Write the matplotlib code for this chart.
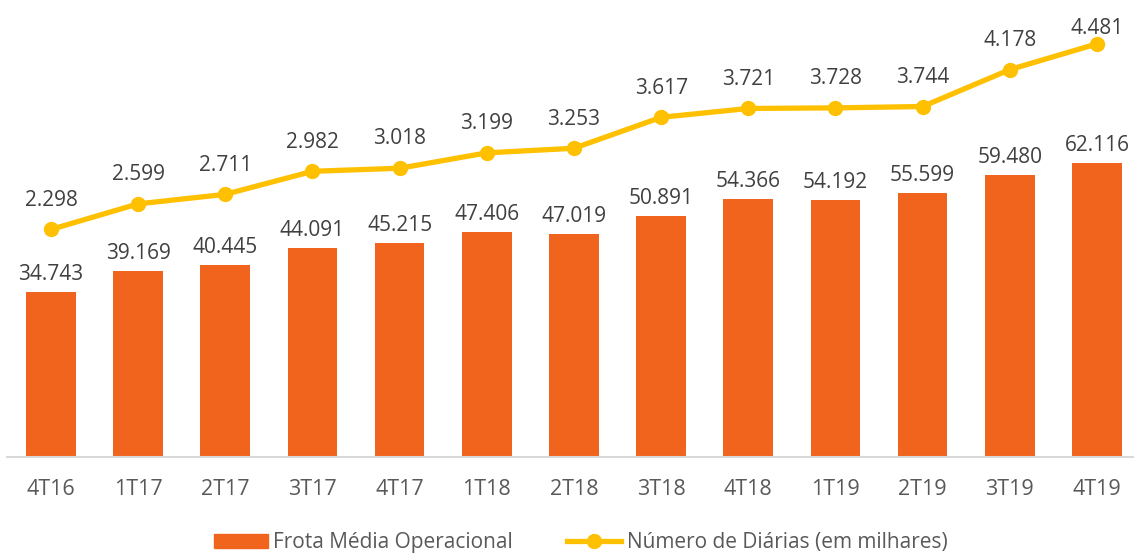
import matplotlib.pyplot as plt
import numpy as np

quarters = ['4T16', '1T17', '2T17', '3T17', '4T17', '1T18', '2T18',
            '3T18', '4T18', '1T19', '2T19', '3T19', '4T19']
frota = [34.743, 39.169, 40.445, 44.091, 45.215, 47.406, 47.019,
         50.891, 54.366, 54.192, 55.599, 59.480, 62.116]
diarias = [2.298, 2.599, 2.711, 2.982, 3.018, 3.199, 3.253,
           3.617, 3.721, 3.728, 3.744, 4.178, 4.481]

barColor = '#F0641E'
lineColor = '#FFC000'
textColor = '#404040'

plt.rcParams['font.family'] = ['Open Sans', 'DejaVu Sans']

fig = plt.figure(figsize=(11.34, 5.54), dpi=100)
ax = fig.add_axes([0.0065, 0.1751, 0.9993, 0.807])
x = np.arange(len(quarters))

ax.bar(x, frota, width=0.57, color=barColor, zorder=2)
ax.set_xlim(-0.5, len(quarters) - 0.5)
ax.set_ylim(0, 94.3)
for xi, v in zip(x, frota):
    ax.annotate('{:.3f}'.format(v), (xi, v), xytext=(0, 5), textcoords='offset points',
                ha='center', va='bottom', fontsize=15, color=textColor)

ax.set_xticks(x)
ax.set_xticklabels(quarters, fontsize=15.5, color='#595959')
ax.tick_params(axis='x', length=0, pad=15.5)
ax.set_yticks([])
for side in ['left', 'right', 'top']:
    ax.spines[side].set_visible(False)
ax.spines['bottom'].set_color('#D9D9D9')
ax.spines['bottom'].set_linewidth(1.5)

ax2 = ax.twinx()
ax2.plot(x, diarias, color=lineColor, linewidth=3.8, marker='o', markersize=10,
         solid_capstyle='round', zorder=3)
ax2.set_ylim(-0.378, 4.88)
ax2.set_yticks([])
for side in ['left', 'right', 'top', 'bottom']:
    ax2.spines[side].set_visible(False)
lineLabels = []
for xi, v in zip(x, diarias):
    t = ax2.annotate('{:.3f}'.format(v), (xi, v), xytext=(0, 13.5), textcoords='offset points',
                     ha='center', va='bottom', fontsize=15, color=textColor)
    lineLabels.append(t)

h1 = plt.Rectangle((0, 0), 1, 1, color=barColor)
h2 = plt.Line2D([], [], color=lineColor, linewidth=3.8, marker='o', markersize=10)
fig.legend([h1, h2], ['Frota Média Operacional', 'Número de Diárias (em milhares)'],
           loc='center', bbox_to_anchor=(0.512, 0.02), ncol=2, frameon=False,
           fontsize=15, labelcolor='#595959', handlelength=2.6, handletextpad=0.25,
           columnspacing=2.6)

# keep labels inside the plot area (like excel does)
fig.canvas.draw()
renderer = fig.canvas.get_renderer()
top = ax2.get_window_extent(renderer).y1 - 8
for t in lineLabels:
    bb = t.get_window_extent(renderer)
    if bb.y1 > top:
        shift = (bb.y1 - top) * 72.0 / fig.dpi
        t.xyann = (0, t.xyann[1] - shift)

fig.savefig('out.png', dpi=100)
